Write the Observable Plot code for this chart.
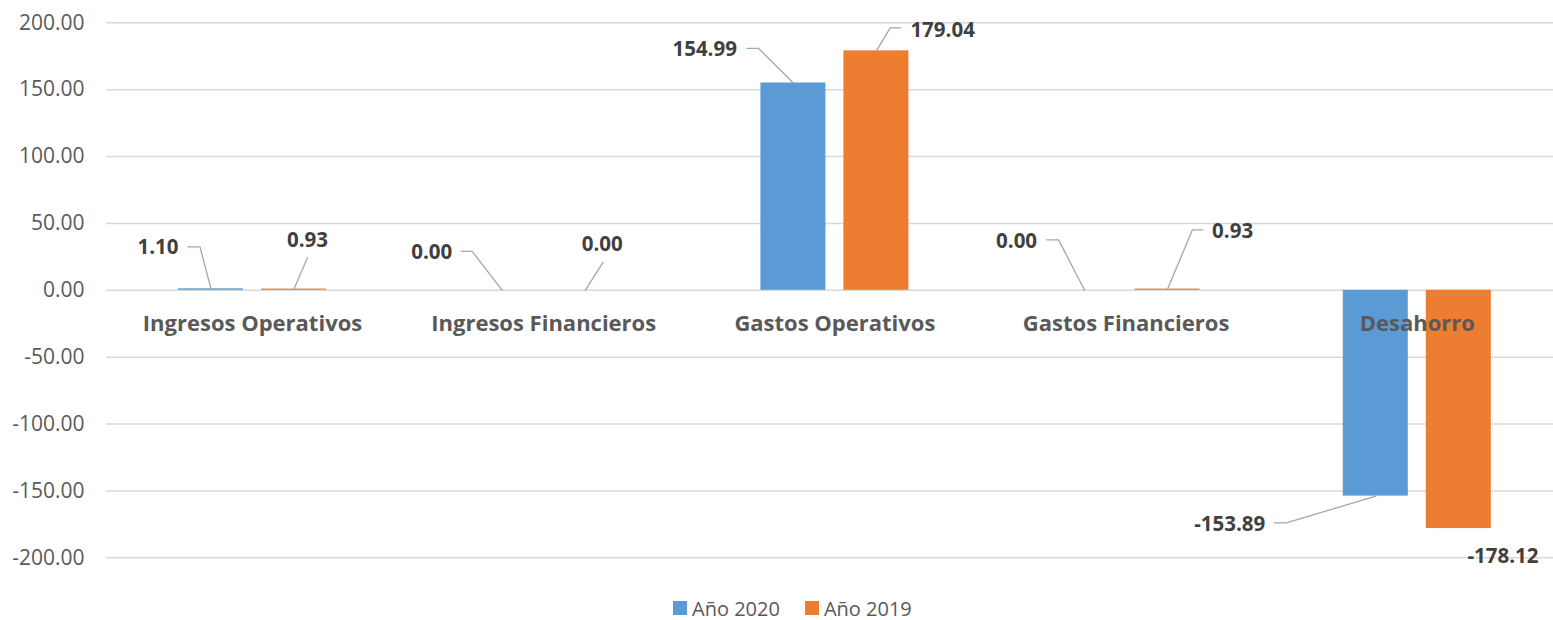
<!DOCTYPE html>
<html>
<head>
<meta charset="utf-8">
<script src="https://cdn.jsdelivr.net/npm/d3@7"></script>
<script src="https://cdn.jsdelivr.net/npm/@observablehq/plot@0.6"></script>
<style>
  body { margin: 0; background: #fff; font-family: "Open Sans", sans-serif; }
  #legend { display: flex; align-items: center; padding-left: 673px; margin-top: 6px; height: 20px; font-size: 20px; color: #595959; }
  #legend .item { display: flex; align-items: center; margin-right: 25px; }
  #legend .sw { width: 14px; height: 14px; margin-right: 5px; }
</style>
</head>
<body>
<div id="chart"></div>
<div id="legend"></div>
<script>
// ---- data ----
const categories = ["Ingresos Operativos", "Ingresos Financieros", "Gastos Operativos", "Gastos Financieros", "Desahorro"];
const seriesNames = ["Año 2020", "Año 2019"];
const values2020 = [1.10, 0.00, 154.99, 0.00, -153.89];
const values2019 = [0.93, 0.00, 179.04, 0.93, -178.12];
const yTicks = [-200, -150, -100, -50, 0, 50, 100, 150, 200];
const seriesColors = ["#5B9BD5", "#ED7D31"];

// ---- layout (pixels) ----
const W = 1553, H = 592;
const X_LEFT = 106.4, BAND = 291.2;
const Y_TOP = 22.3, Y_BOT = 557.3;
const BAR_OUT = 74, BAR_IN = 9;
const PY = (Y_BOT - Y_TOP) / 400;
const px2x = p => p / BAND;
const px2y = p => -p / PY;

// data-label placement relative to each bar end, px (order: per category, 2020 then 2019)
const labelLayout = [
  {line: [[-11, -42], [-23, -42]], tx: -32.5, ty: -41, anchor: "end"},
  {line: [[13.5, -31.5]], tx: 13.5, ty: -49, anchor: "middle"},
  {line: [[-30, -39], [-41, -39]], tx: -50, ty: -38, anchor: "end"},
  {line: [[17.8, -28]], tx: 17, ty: -46, anchor: "middle"},
  {line: [[-35, -34.7], [-46.5, -34.7]], tx: -56.5, ty: -34, anchor: "end"},
  {line: [[13.8, -23], [24.5, -23]], tx: 34, ty: -20, anchor: "start"},
  {line: [[-26, -50.4], [-37.8, -50.4]], tx: -47.5, ty: -49, anchor: "end"},
  {line: [[24.8, -59.2], [35.2, -59.2]], tx: 44.5, ty: -57.5, anchor: "start"},
  {line: [[-89.5, 26.8], [-101.2, 26.8]], tx: -110.5, ty: 28.8, anchor: "end"},
  {line: [], tx: 44.2, ty: 28, anchor: "middle"}
];

const seriesValues = [values2020, values2019];
const bars = [];
categories.forEach((c, i) => {
  seriesValues.forEach((vals, s) => {
    const sign = s === 0 ? -1 : 1;
    const a = i + sign * px2x(BAR_OUT), b = i + sign * px2x(BAR_IN);
    bars.push({cat: c, i, s, series: seriesNames[s], value: vals[i],
      x1: Math.min(a, b), x2: Math.max(a, b), cx: i + sign * px2x((BAR_OUT + BAR_IN) / 2)});
  });
});

const labels = [], leader = [];
bars.forEach((b, k) => {
  const L = labelLayout[k];
  labels.push({x: b.cx + px2x(L.tx), y: b.value + px2y(L.ty), text: b.value.toFixed(2), anchor: L.anchor});
  if (L.line.length) {
    leader.push({id: k, x: b.cx, y: b.value});
    L.line.forEach(([dx, dy]) => leader.push({id: k, x: b.cx + px2x(dx), y: b.value + px2y(dy)}));
  }
});

const catRows = categories.map((c, i) => ({i, c}));

const labelMark = anchor => Plot.text(labels.filter(d => d.anchor === anchor), {
  x: "x", y: "y", text: "text", textAnchor: anchor,
  fontSize: 20.5, fontWeight: "bold", fill: "#404040"
});

const chart = Plot.plot({
  width: W, height: H,
  marginLeft: 106, marginRight: 0, marginTop: 22, marginBottom: 35,
  style: {fontFamily: "'Open Sans', sans-serif", fontSize: "21px", color: "#595959", background: "#fff"},
  x: {type: "linear", domain: [-0.5, 4.5], range: [X_LEFT, X_LEFT + 5 * BAND], axis: null},
  y: {domain: [-200, 200], range: [Y_BOT, Y_TOP], ticks: yTicks, tickSize: 0, tickPadding: 22,
      tickFormat: d => d.toFixed(2), label: null, axis: "left"},
  marks: [
    Plot.ruleY(yTicks, {stroke: "#D9D9D9", strokeWidth: 1.5}),
    Plot.rectY(bars, {x1: "x1", x2: "x2", y1: 0, y2: "value", fill: d => seriesColors[d.s]}),
    Plot.line(leader, {x: "x", y: "y", z: "id", stroke: "#A6A6A6", strokeWidth: 1.3}),
    Plot.text(catRows, {x: "i", y: 0, text: "c", dy: 34, fontSize: 22, fontWeight: "bold", fill: "#595959"}),
    labelMark("end"), labelMark("start"), labelMark("middle")
  ]
});
document.getElementById("chart").appendChild(chart);

const legend = document.getElementById("legend");
seriesNames.forEach((n, s) => {
  const it = document.createElement("div");
  it.className = "item";
  it.innerHTML = `<span class="sw" style="background:${seriesColors[s]}"></span><span>${n}</span>`;
  legend.appendChild(it);
});
</script>
</body>
</html>
